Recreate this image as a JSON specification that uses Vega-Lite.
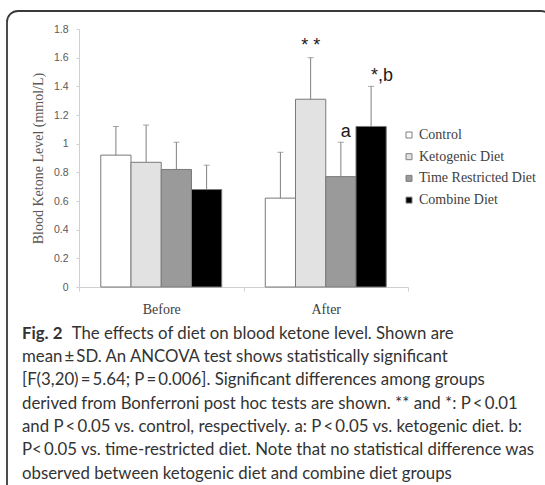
{
  "$schema": "https://vega.github.io/schema/vega-lite/v6.json",
  "width": 545,
  "height": 490,
  "autosize": {"type": "none"},
  "padding": {"left": 7, "top": 11, "right": 0, "bottom": 0},
  "background": "white",
  "view": {"stroke": "#3a3a3a", "strokeWidth": 1.8, "cornerRadius": 11, "fill": "white"},
  "data": {"values": [
    {"time": "Before", "group": "Control", "mean": 0.92, "upper": 1.12},
    {"time": "Before", "group": "Ketogenic Diet", "mean": 0.87, "upper": 1.13},
    {"time": "Before", "group": "Time Restricted Diet", "mean": 0.82, "upper": 1.01},
    {"time": "Before", "group": "Combine Diet", "mean": 0.68, "upper": 0.85},
    {"time": "After", "group": "Control", "mean": 0.62, "upper": 0.94},
    {"time": "After", "group": "Ketogenic Diet", "mean": 1.31, "upper": 1.60},
    {"time": "After", "group": "Time Restricted Diet", "mean": 0.77, "upper": 1.01},
    {"time": "After", "group": "Combine Diet", "mean": 1.12, "upper": 1.40}
  ]},
  "layer": [
    {
      "mark": {"type": "bar", "stroke": "#7a7a7a", "strokeWidth": 1},
      "encoding": {
        "x": {"field": "time", "type": "nominal", "sort": ["Before", "After"],
          "scale": {"domain": ["Before", "After"], "range": [72, 401], "paddingInner": 0, "paddingOuter": 0},
          "axis": {"title": null, "labelAngle": 0, "offset": -214, "tickBand": "extent", "domainColor": "#d0d0d0", "tickColor": "#d0d0d0", "tickSize": 4, "labelFont": "Liberation Serif", "labelFontSize": 14, "labelColor": "#404040", "labelPadding": 11}},
        "xOffset": {"field": "group", "type": "nominal", "sort": ["Control", "Ketogenic Diet", "Time Restricted Diet", "Combine Diet"],
          "scale": {"domain": ["Control", "Ketogenic Diet", "Time Restricted Diet", "Combine Diet"], "paddingInner": 0, "paddingOuter": 0.72}},
        "y": {"field": "mean", "type": "quantitative",
          "scale": {"domain": [0, 1.8], "range": [276, 18], "nice": false},
          "axis": {"title": "Blood Ketone Level (mmol/L)", "values": [0, 0.2, 0.4, 0.6, 0.8, 1, 1.2, 1.4, 1.6, 1.8], "format": "~g", "grid": false, "offset": -72, "domainColor": "#d0d0d0", "tickColor": "#d0d0d0", "tickSize": 3, "labelFont": "Liberation Sans", "labelFontSize": 10.5, "labelColor": "#595959", "labelPadding": 8, "titleFont": "Liberation Serif", "titleFontSize": 14, "titleFontWeight": "normal", "titleColor": "#595959", "titlePadding": 8}},
        "color": {"field": "group", "type": "nominal", "sort": ["Control", "Ketogenic Diet", "Time Restricted Diet", "Combine Diet"],
          "scale": {"domain": ["Control", "Ketogenic Diet", "Time Restricted Diet", "Combine Diet"], "range": ["#ffffff", "#e2e2e2", "#9a9a9a", "#000000"]},
          "legend": {"title": null, "orient": "none", "legendX": 395, "legendY": 117, "padding": 0, "symbolType": "square", "symbolSize": 36, "symbolStrokeColor": "#7f7f7f", "symbolStrokeWidth": 1, "labelFont": "Liberation Serif", "labelFontSize": 14, "labelColor": "#404040", "labelOffset": 3, "rowPadding": 7.7}}
      }
    },
    {
      "mark": {"type": "rule", "color": "#808080", "strokeWidth": 1},
      "encoding": {
        "x": {"field": "time", "type": "nominal", "sort": ["Before", "After"]},
        "xOffset": {"field": "group", "type": "nominal", "sort": ["Control", "Ketogenic Diet", "Time Restricted Diet", "Combine Diet"]},
        "y": {"field": "mean", "type": "quantitative", "scale": {"domain": [0, 1.8], "range": [276, 18], "nice": false}, "axis": null},
        "y2": {"field": "upper"}
      }
    },
    {
      "mark": {"type": "tick", "color": "#808080", "thickness": 1, "size": 6, "orient": "horizontal"},
      "encoding": {
        "x": {"field": "time", "type": "nominal", "sort": ["Before", "After"]},
        "xOffset": {"field": "group", "type": "nominal", "sort": ["Control", "Ketogenic Diet", "Time Restricted Diet", "Combine Diet"]},
        "y": {"field": "upper", "type": "quantitative", "scale": {"domain": [0, 1.8], "range": [276, 18], "nice": false}, "axis": null}
      }
    },
    {
      "data": {"values": [
        {"time": "After", "group": "Ketogenic Diet", "pos": 1.65, "label": "* *"}
      ]},
      "mark": {"type": "text", "align": "center", "baseline": "alphabetic", "font": "Liberation Sans", "fontSize": 18, "color": "#1a1a1a"},
      "encoding": {
        "x": {"field": "time", "type": "nominal", "sort": ["Before", "After"]},
        "xOffset": {"field": "group", "type": "nominal", "sort": ["Control", "Ketogenic Diet", "Time Restricted Diet", "Combine Diet"]},
        "y": {"field": "pos", "type": "quantitative", "scale": {"domain": [0, 1.8], "range": [276, 18], "nice": false}, "axis": null},
        "text": {"field": "label"}
      }
    },
    {
      "data": {"values": [
        {"time": "After", "group": "Time Restricted Diet", "pos": 1.05, "label": "a"},
        {"time": "After", "group": "Combine Diet", "pos": 1.44, "label": "*,b"}
      ]},
      "mark": {"type": "text", "align": "left", "baseline": "alphabetic", "font": "Liberation Sans", "fontSize": 18, "color": "#1a1a1a"},
      "encoding": {
        "x": {"field": "time", "type": "nominal", "sort": ["Before", "After"]},
        "xOffset": {"field": "group", "type": "nominal", "sort": ["Control", "Ketogenic Diet", "Time Restricted Diet", "Combine Diet"]},
        "y": {"field": "pos", "type": "quantitative", "scale": {"domain": [0, 1.8], "range": [276, 18], "nice": false}, "axis": null},
        "text": {"field": "label"}
      }
    },
    {
      "data": {"values": [
        {"line": 1, "lead": "Fig. 2"}
      ]},
      "mark": {"type": "text", "align": "left", "baseline": "middle", "font": "Lato", "fontSize": 16.8, "fontWeight": "bold", "color": "#333333", "dx": -257.5},
      "encoding": {
        "y": {"field": "line", "type": "quantitative", "scale": {"domain": [1, 7], "range": [322.7, 462.7]}, "axis": null},
        "text": {"field": "lead"}
      }
    },
    {
      "data": {"values": [
        {"line": 1, "text": "The effects of diet on blood ketone level. Shown are"}
      ]},
      "mark": {"type": "text", "align": "left", "baseline": "middle", "font": "Lato", "fontSize": 16.8, "color": "#333333", "dx": -207.8},
      "encoding": {
        "y": {"field": "line", "type": "quantitative", "scale": {"domain": [1, 7], "range": [322.7, 462.7]}, "axis": null},
        "text": {"field": "text"}
      }
    },
    {
      "data": {"values": [
        {"line": 2, "text": "mean\u2009±\u2009SD. An ANCOVA test shows statistically significant"},
        {"line": 3, "text": "[F(3,20)\u2009=\u20095.64; P\u2009=\u20090.006]. Significant differences among groups"},
        {"line": 4, "text": "derived from Bonferroni post hoc tests are shown. ** and *: P\u2009<\u20090.01"},
        {"line": 5, "text": "and P\u2009<\u20090.05 vs. control, respectively. a: P\u2009<\u20090.05 vs. ketogenic diet. b:"},
        {"line": 6, "text": "P<\u20090.05 vs. time-restricted diet. Note that no statistical difference was"},
        {"line": 7, "text": "observed between ketogenic diet and combine diet groups"}
      ]},
      "mark": {"type": "text", "align": "left", "baseline": "middle", "font": "Lato", "fontSize": 16.8, "color": "#333333", "dx": -257.5},
      "encoding": {
        "y": {"field": "line", "type": "quantitative", "scale": {"domain": [1, 7], "range": [322.7, 462.7]}, "axis": null},
        "text": {"field": "text"}
      }
    }
  ],
  "resolve": {"scale": {"y": "independent"}}
}
